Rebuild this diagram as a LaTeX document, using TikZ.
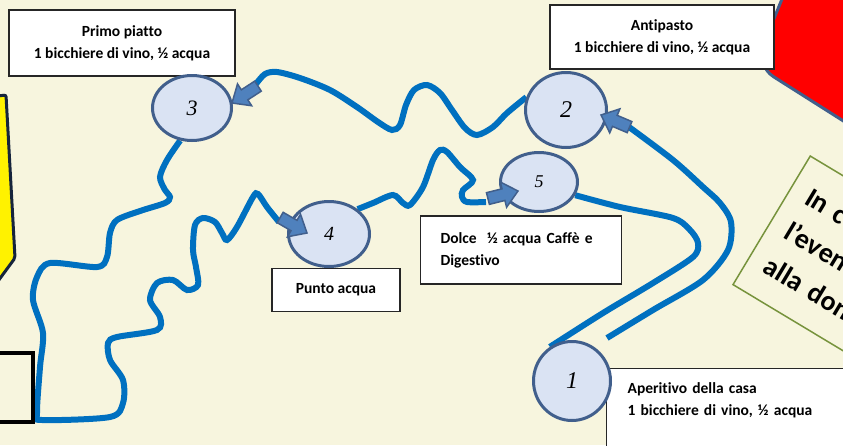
\documentclass[tikz,border=0pt]{standalone}
\usepackage{fontspec}
\setmainfont{Carlito}[Ligatures=CommonOff]
\newfontfamily\numfont{Liberation Serif}
\usetikzlibrary{shapes.geometric,calc,backgrounds}
\definecolor{crema}{RGB}{247,245,222}
\definecolor{blu}{RGB}{0,112,192}
\definecolor{bordo}{RGB}{65,95,140}
\definecolor{azzurro}{RGB}{218,227,243}
\definecolor{frecciablu}{RGB}{79,129,189}
\definecolor{verde}{RGB}{119,147,60}
\definecolor{notte}{RGB}{22,36,60}

\begin{document}
\begin{tikzpicture}[x=1pt,y=-1pt,
	tappa/.style={ellipse,draw=bordo,fill=azzurro,line width=3pt,inner sep=0pt,font=\numfont\itshape\fontsize{22}{22}\selectfont},
	cartello/.style={draw=black!85,fill=white,line width=1.2pt,align=center,font=\bfseries\fontsize{15.5}{22}\selectfont},
	strada/.style={draw=blu,line width=6pt},
	freccia/.pic={\filldraw[fill=frecciablu,draw=bordo,line width=1.5pt,line join=miter] (-31,-6)--(-15,-6)--(-15,-13)--(0,0)--(-15,13)--(-15,6)--(-31,6)--cycle;}]
	\useasboundingbox (0,0) rectangle (843,445);
	\clip (0,0) rectangle (843,445);

	\filldraw[fill=yellow,draw=notte,line width=3pt,rounded corners=2] (-10,97) -- (6,95) -- (15,258) -- (-10,292) -- cycle;
	\draw[line width=4pt] (-10,353) rectangle (33,422);
	\filldraw[fill=red,draw=bordo,line width=3pt,rounded corners=22] (800,-45) -- (755,65) -- (905,160) -- (905,-45) -- cycle;
	\node[draw=verde,line width=1.5pt,rotate=-31,anchor=north west,text width=300,align=left,minimum height=150,inner xsep=18,font=\bfseries\fontsize{28}{40}\selectfont] (nota) at (810,155) {In c\\l’even\\alla don};

	\node[cartello,minimum width=226,minimum height=66] (b3) at (122,43) {Primo piatto\\1 bicchiere di vino, ½ acqua};
	\node[cartello,minimum width=224,minimum height=64] (b2) at (662,37) {Antipasto\\1 bicchiere di vino, ½ acqua};
	\node[cartello,minimum width=128,minimum height=43] (b4) at (336,290) {Punto acqua};
	\node[cartello,align=left,text width=161,inner xsep=20,minimum height=68] (b5) at (521,250) {Dolce\ \ ½ acqua Caffè e\\Digestivo};
	\node[cartello,align=left,anchor=north west,text width=240,inner xsep=21,inner ysep=14] (b1) at (606,368) {Aperitivo della casa\\1 bicchiere di vino, ½ acqua\\[30pt]~};

	\node[tappa,minimum width=77,minimum height=79,font=\numfont\itshape\fontsize{24}{24}\selectfont] (c1) at (572,381) {1};
	\node[tappa,minimum width=81,minimum height=75,font=\numfont\itshape\fontsize{24}{24}\selectfont] (c2) at (566,110) {2};
	\node[tappa,minimum width=79,minimum height=65] (c3) at (192,108) {3};
	\node[tappa,minimum width=81,minimum height=65,font=\numfont\itshape\fontsize{20}{20}\selectfont] (c4) at (329,234) {4};
	\node[tappa,minimum width=77,minimum height=59,font=\numfont\itshape\fontsize{18}{18}\selectfont] (c5) at (539,182) {5};

	\coordinate (d1) at (607,338);

	\begin{scope}[on background layer]
		\fill[crema] (0,0) rectangle (843,445);
		\draw[strada] plot[smooth] coordinates {(c2.162) (507,113) (493,127) (477,135) (465,128) (452,110) (440,93) (427,85) (414,90) (406,105) (400,125) (392,130) (378,122) (357,107) (330,90) (300,78) (277,72) (265,74) (256,84)};
		\draw[strada] plot[smooth] coordinates {(c3.-110) (167,160) (160,177) (165,190) (170,197) (165,203) (140,211) (117,220) (110,233) (107,257) (97,267) (50,263) (37,277) (33,300) (43,333) (40,367) (37,413) (42,420) (110,417) (123,403) (123,380) (110,360) (108,343) (117,337) (157,330) (160,317) (150,300) (157,283) (173,280) (187,290) (198,285) (196,267) (193,250) (195,225) (203,218) (215,222) (222,233) (227,240) (237,227) (253,197) (258,194) (267,207) (279,222)};
		\draw[strada] plot[smooth] coordinates {(c4.41) (373,203) (393,195) (403,203) (410,205) (423,187) (433,160) (440,150) (447,152) (460,167) (473,180) (463,190) (462,197) (467,202) (486,202)};
		\draw[strada] plot[smooth] coordinates {(d1) (653,310) (703,280) (728,250) (731,222) (720,203) (703,187) (673,160) (629,127)};
		\draw[strada] plot[smooth] coordinates {(c5.-20) (620,207) (673,218) (690,230) (698,243) (693,257) (653,283) (603,313) (c1.123)};
	\end{scope}

	\pic[rotate=213] at ($(c3.east)+(-1,-5)$) {freccia};
	\pic[rotate=157] at ($(c2.east)+(-7,5)$) {freccia};
	\pic[rotate=-30] at ($(c4.west)+(20,-1)$) {freccia};
	\pic[rotate=14] at ($(c5.west)+(19,9)$) {freccia};
\end{tikzpicture}
\end{document}
